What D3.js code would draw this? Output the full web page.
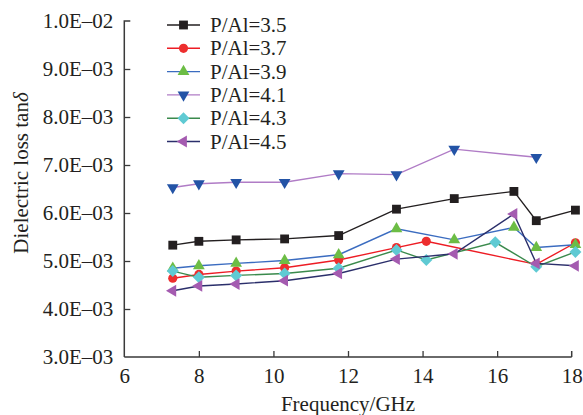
<!DOCTYPE html>
<html>
<head>
<meta charset="utf-8">
<script src="https://cdn.jsdelivr.net/npm/d3@7"></script>
<style>
  html, body { margin: 0; padding: 0; background: #fff; }
  svg { display: block; font-family: "Liberation Serif", "Times New Roman", serif; }
</style>
</head>
<body>
<svg id="chart" width="583" height="415"></svg>
<script>
// Frequency points (GHz) and loss tangent values (units of 1e-3) per sample
const seriesNames = ["P/Al=3.5", "P/Al=3.7", "P/Al=3.9", "P/Al=4.1", "P/Al=4.3", "P/Al=4.5"];

const freq35 = [7.3, 8.0, 9.0, 10.3, 11.75, 13.3, 14.85, 16.45, 17.05, 18.1];
const loss35 = [5.33, 5.41, 5.44, 5.46, 5.53, 6.08, 6.30, 6.45, 5.84, 6.06];

const freq37 = [7.3, 8.0, 9.0, 10.3, 11.75, 13.3, 14.1, 17.05, 18.1];
const loss37 = [4.64, 4.72, 4.79, 4.86, 5.02, 5.28, 5.41, 4.93, 5.38];

const freq39 = [7.3, 8.0, 9.0, 10.3, 11.75, 13.3, 14.85, 16.45, 17.05, 18.1];
const loss39 = [4.85, 4.90, 4.95, 5.01, 5.13, 5.67, 5.44, 5.70, 5.28, 5.34];

const freq41 = [7.3, 8.0, 9.0, 10.3, 11.75, 13.3, 14.85, 17.05];
const loss41 = [6.53, 6.61, 6.64, 6.64, 6.82, 6.80, 7.33, 7.16];

const freq43 = [7.3, 8.0, 9.0, 10.3, 11.75, 13.3, 14.1, 15.95, 17.05, 18.1];
const loss43 = [4.79, 4.66, 4.70, 4.74, 4.85, 5.23, 5.02, 5.39, 4.88, 5.19];

const freq45 = [7.3, 8.0, 9.0, 10.3, 11.75, 13.3, 14.85, 16.45, 17.05, 18.1];
const loss45 = [4.38, 4.48, 4.52, 4.59, 4.74, 5.04, 5.15, 5.98, 4.95, 4.90];

const xTicks = [6, 8, 10, 12, 14, 16, 18];
const yTicks = [3, 4, 5, 6, 7, 8, 9, 10];
const yTickLabels = ["3.0E\u201303", "4.0E\u201303", "5.0E\u201303", "6.0E\u201303",
                     "7.0E\u201303", "8.0E\u201303", "9.0E\u201303", "1.0E\u201302"];

const freqs = [freq35, freq37, freq39, freq41, freq43, freq45];
const losses = [loss35, loss37, loss39, loss41, loss43, loss45];

// Styling per series: line colour, marker fill, marker shape
const lineColors = ["#231f20", "#ed1c24", "#3b6cc0", "#b07cc6", "#3a8a4c", "#2b2f6b"];
const markerColors = ["#231f20", "#ed2e2e", "#6cbd45", "#2353a6", "#5fcad3", "#a45bb0"];
const shapes = [
  { type: d3.symbolSquare, size: 78, rot: 0 },
  { type: d3.symbolCircle, size: 66, rot: 0 },
  { type: d3.symbolTriangle, size: 60, rot: 0 },
  { type: d3.symbolTriangle, size: 60, rot: 180 },
  { type: d3.symbolSquare, size: 72, rot: 45 },
  { type: d3.symbolTriangle, size: 60, rot: -90 }
];

const svg = d3.select("#chart");
const plot = { left: 124.3, right: 571.7, top: 21, bottom: 357 };

const x = d3.scaleLinear().domain([6, 18]).range([plot.left, plot.right]);
const y = d3.scaleLinear().domain([3, 10]).range([plot.bottom, plot.top]);

const axisColor = "#3a3a3a";
const fontSize = 21;

// Bottom axis (ticks point inward)
const xAxis = d3.axisBottom(x).tickValues(xTicks).tickSize(-6).tickPadding(11)
  .tickFormat(d3.format("d"));
const gx = svg.append("g").attr("transform", `translate(0,${plot.bottom})`).call(xAxis);
gx.select(".domain").attr("stroke", axisColor).attr("stroke-width", 1.5)
  .attr("d", `M${plot.left},0H${plot.right}M${plot.right},0V-6`);
gx.selectAll(".tick line").attr("stroke", axisColor).attr("stroke-width", 1.3);
gx.selectAll(".tick text").attr("fill", "#231f20")
  .style("font-size", fontSize + "px").style("font-family", "Liberation Serif");
gx.selectAll(".tick").filter(d => d === 6 || d === 18).select("line").remove();

// Left axis (ticks point inward)
const yAxis = d3.axisLeft(y).tickValues(yTicks).tickSize(-6).tickPadding(11)
  .tickFormat((d, i) => yTickLabels[i]);
const gy = svg.append("g").attr("transform", `translate(${plot.left},0)`).call(yAxis);
gy.select(".domain").attr("stroke", axisColor).attr("stroke-width", 1.5)
  .attr("d", `M6,${plot.top}H0V${plot.bottom}`);
gy.selectAll(".tick line").attr("stroke", axisColor).attr("stroke-width", 1.3);
gy.selectAll(".tick text").attr("fill", "#231f20")
  .style("font-size", fontSize + "px").style("font-family", "Liberation Serif");
gy.selectAll(".tick").filter(d => d === 3 || d === 10).select("line").remove();

// Axis titles
svg.append("text")
  .attr("x", (plot.left + plot.right) / 2).attr("y", 411)
  .attr("text-anchor", "middle").attr("fill", "#231f20")
  .style("font-size", fontSize + "px")
  .text("Frequency/GHz");

const yTitle = svg.append("text")
  .attr("transform", `translate(28,${173}) rotate(-90)`)
  .attr("text-anchor", "middle").attr("fill", "#231f20")
  .style("font-size", fontSize + "px");
yTitle.append("tspan").text("Dielectric loss tan");
yTitle.append("tspan").attr("font-style", "italic").text("\u03b4");

// Series lines and markers
const line = d3.line().x(d => x(d[0])).y(d => y(d[1]));
const symbolPath = s => d3.symbol().type(s.type).size(s.size)();

seriesNames.forEach((name, i) => {
  const pts = freqs[i].map((f, j) => [f, losses[i][j]]);
  const g = svg.append("g");
  g.append("path").datum(pts)
    .attr("fill", "none").attr("stroke", lineColors[i]).attr("stroke-width", 1.4)
    .attr("d", line);
  g.selectAll("path.mk").data(pts).enter().append("path")
    .attr("class", "mk")
    .attr("d", symbolPath(shapes[i]))
    .attr("transform", d => `translate(${x(d[0])},${y(d[1])}) rotate(${shapes[i].rot})`)
    .attr("fill", markerColors[i]);
});

// Legend
const legend = svg.append("g");
const legendY0 = 25, legendStep = 23.3;
seriesNames.forEach((name, i) => {
  const ly = legendY0 + i * legendStep;
  legend.append("line")
    .attr("x1", 167).attr("x2", 200).attr("y1", ly).attr("y2", ly)
    .attr("stroke", lineColors[i]).attr("stroke-width", 1.4);
  legend.append("path")
    .attr("d", symbolPath(shapes[i]))
    .attr("transform", `translate(183.5,${ly}) rotate(${shapes[i].rot})`)
    .attr("fill", markerColors[i]);
  legend.append("text")
    .attr("x", 210).attr("y", ly).attr("dy", "0.34em")
    .attr("fill", "#231f20")
    .style("font-size", fontSize + "px")
    .text(name);
});
</script>
</body>
</html>
